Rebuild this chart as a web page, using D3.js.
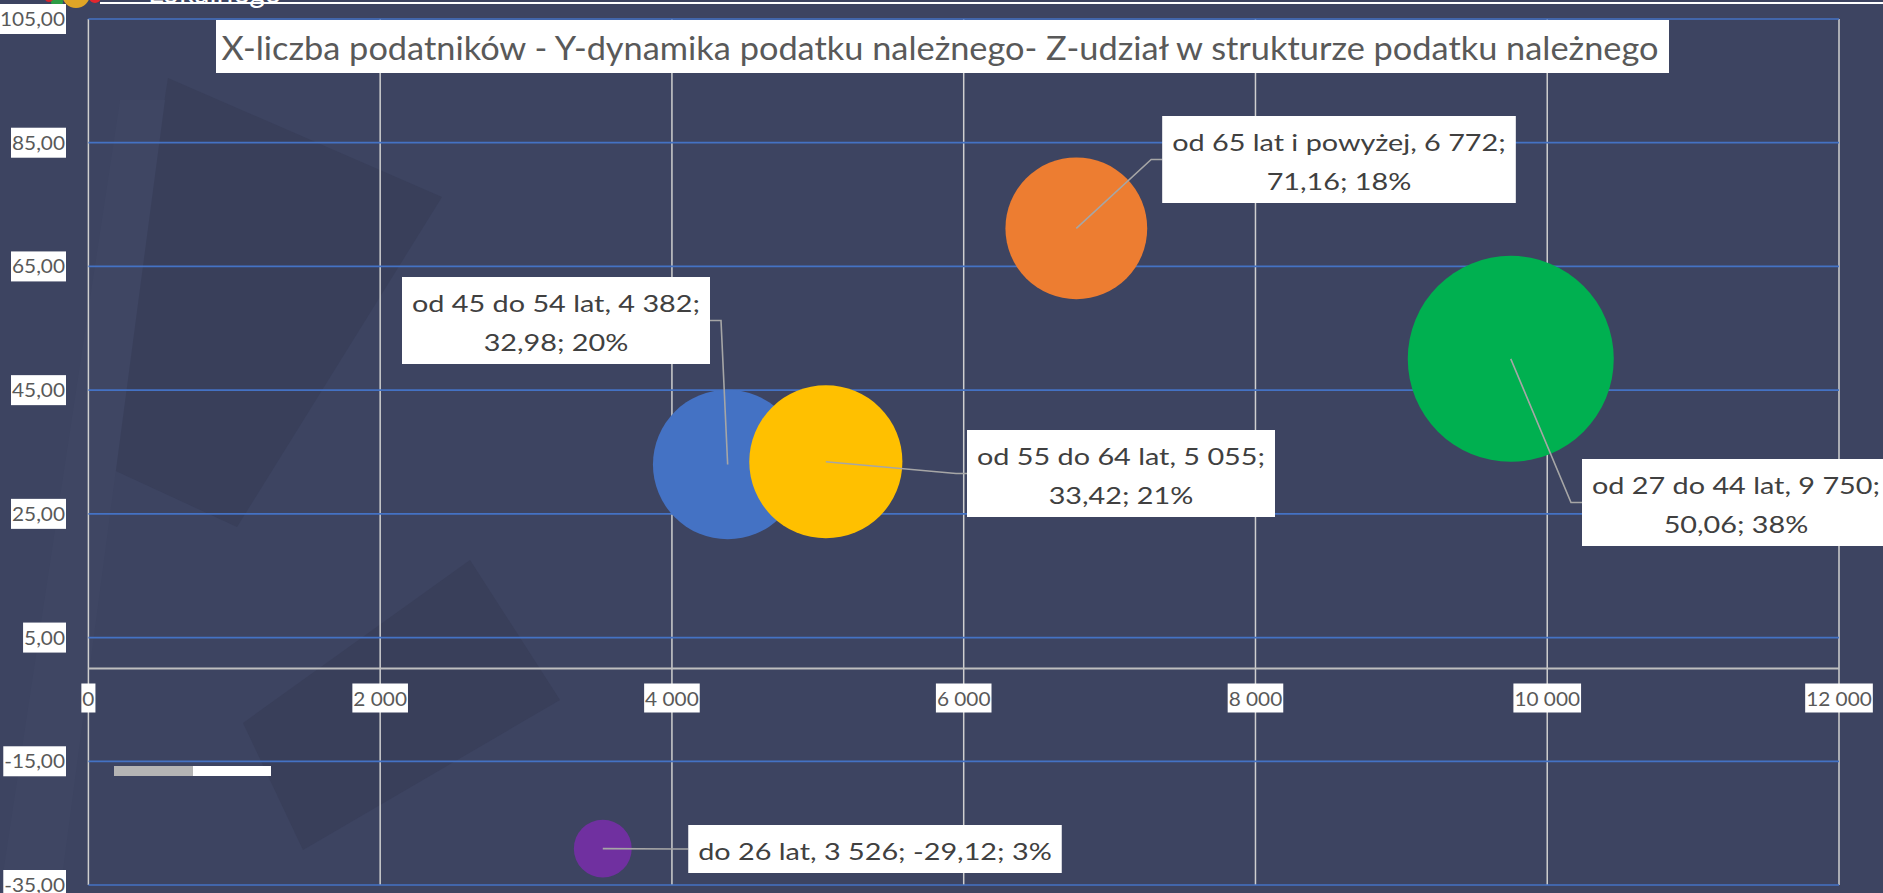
<!DOCTYPE html>
<html>
<head>
<meta charset="utf-8">
<script src="https://d3js.org/d3.v7.min.js"></script>
<style>
  body { margin: 0; background: #3d4461; overflow: hidden; }
  text { font-family: Lato, "Open Sans", sans-serif; }
</style>
</head>
<body>
<div id="chart"></div>
<script>
// ---- data ----
var groups = ["od 27 do 44 lat", "od 45 do 54 lat", "od 55 do 64 lat", "od 65 lat i powyżej", "do 26 lat"]
var taxpayers = [9750, 4382, 5055, 6772, 3526]
var dynamics = [50.06, 32.98, 33.42, 71.16, -29.12]
var shares = [38, 20, 21, 18, 3]
var colors = ["#00b050", "#4472c4", "#ffc000", "#ed7d31", "#7030a0"]
var xTicks = [0, 2000, 4000, 6000, 8000, 10000, 12000]
var yTicks = [-35, -15, 5, 25, 45, 65, 85, 105]
var title = "X-liczba podatników - Y-dynamika podatku należnego- Z-udział w strukturze podatku należnego"

// label boxes: centre x, top y, which side the leader enters
var labelLayout = [
    {cx: 1736, top: 459, side: "left", lines: 2},
    {cx: 556, top: 277, side: "right", lines: 2},
    {cx: 1121, top: 430, side: "left", lines: 2},
    {cx: 1339, top: 116, side: "left", lines: 2},
    {cx: 875, top: 825, side: "left", lines: 1}
]

var width = 1883, height = 893

var pl = d3.formatLocale({decimal: ",", thousands: " ", grouping: [3], currency: ["", " zł"], minus: "-"})
var fmtInt = pl.format(",d")
var fmt2 = pl.format(",.2f")

var svg = d3.select("#chart").append("svg")
    .attr("width", width)
    .attr("height", height)

svg.append("rect").attr("width", width).attr("height", height).attr("fill", "#3d4461")

// faint watermark shapes behind the plot
var bgShapes = svg.append("g").attr("fill", "#393f5a")
bgShapes.append("polygon").attr("points", "168,78 442,197 237,527 107,467")
bgShapes.append("polygon").attr("points", "243,723 470,560 560,700 303,850")
svg.append("polygon").attr("points", "0,893 60,893 165,100 120,100").attr("fill", "#3f4663")

// slide leftovers at the top
svg.append("line").attr("x1", 100).attr("x2", width).attr("y1", 3).attr("y2", 3)
    .attr("stroke", "#ffffff").attr("stroke-width", 2)
svg.append("text").attr("x", 148).attr("y", 3).text("Lokalnego")
    .attr("fill", "#ffffff").attr("font-size", 30)
svg.append("circle").attr("cx", 76).attr("cy", -6).attr("r", 14).attr("fill", "#e0a526")
svg.append("circle").attr("cx", 57).attr("cy", 2).attr("r", 6).attr("fill", "#2e9c45")
svg.append("circle").attr("cx", 49).attr("cy", -2).attr("r", 4).attr("fill", "#d9252b")
svg.append("circle").attr("cx", 95).attr("cy", -3).attr("r", 6).attr("fill", "#e3262e")

// ---- scales ----
var x = d3.scaleLinear().domain([0, 12000]).range([88.4, 1839])
var y = d3.scaleLinear().domain([-35, 105]).range([885, 19])
var r = d3.scaleSqrt().domain([0, 38]).range([0, 103])

// vertical gridlines (grey)
svg.append("g").selectAll("line").data(xTicks).enter().append("line")
    .attr("x1", d => x(d)).attr("x2", d => x(d))
    .attr("y1", y(105)).attr("y2", y(-35))
    .attr("stroke", "#cfcfcf").attr("stroke-width", 1.5)

// horizontal gridlines (blue)
svg.append("g").selectAll("line").data(yTicks).enter().append("line")
    .attr("x1", x(0)).attr("x2", x(12000))
    .attr("y1", d => y(d)).attr("y2", d => y(d))
    .attr("stroke", "#4472c4").attr("stroke-width", 1.7)

// x axis line at zero
svg.append("line").attr("x1", x(0)).attr("x2", x(12000))
    .attr("y1", y(0)).attr("y2", y(0))
    .attr("stroke", "#bfbfbf").attr("stroke-width", 2)

// little grey/white bar left over in the plot
svg.append("rect").attr("x", 114).attr("y", 766).attr("width", 79).attr("height", 10).attr("fill", "#b4b4b4")
svg.append("rect").attr("x", 193).attr("y", 766).attr("width", 78).attr("height", 10).attr("fill", "#ffffff")

// squeeze text to imitate the narrow Calibri face
function squeeze(sel, k) {
    sel.each(function () {
        var w = this.getComputedTextLength()
        d3.select(this).attr("textLength", w * k).attr("lengthAdjust", "spacingAndGlyphs")
    })
}
function factor(str, size, target) {
    var t = svg.append("text").attr("font-size", size).text(str)
    var w = t.node().getComputedTextLength()
    t.remove()
    return target / w
}
var kTick = factor("85,00", 20, 53)
var kLab = factor("od 55 do 64 lat, 5 055;", 23, 288)
var kTitle = factor(title, 33, 1437)

// y tick labels
var yLab = svg.append("g").selectAll("g").data(yTicks).enter().append("g")
yLab.append("rect").attr("fill", "#ffffff")
yLab.append("text")
    .attr("x", 65).attr("y", d => y(d) + 7)
    .attr("text-anchor", "end").attr("font-size", 20).attr("fill", "#595959")
    .text(d => fmt2(d))
    .call(squeeze, kTick)
yLab.each(function (d) {
    var w = +d3.select(this).select("text").attr("textLength")
    d3.select(this).select("rect")
        .attr("x", 64 - w).attr("y", y(d) - 15).attr("width", w + 2).attr("height", 30)
})

// x tick labels
var xLab = svg.append("g").selectAll("g").data(xTicks).enter().append("g")
xLab.append("rect").attr("fill", "#ffffff")
xLab.append("text")
    .attr("x", d => x(d)).attr("y", y(0) + 37)
    .attr("text-anchor", "middle").attr("font-size", 20).attr("fill", "#595959")
    .text(d => fmtInt(d))
    .call(squeeze, kTick)
xLab.each(function (d) {
    var w = +d3.select(this).select("text").attr("textLength")
    d3.select(this).select("rect")
        .attr("x", x(d) - w / 2 - 1).attr("y", y(0) + 15).attr("width", w + 2).attr("height", 29)
})

// title box
var titleG = svg.append("g")
titleG.append("text")
    .attr("x", 940).attr("y", 60)
    .attr("text-anchor", "middle").attr("font-size", 33).attr("fill", "#595959")
    .text(title)
    .call(squeeze, kTitle)
titleG.insert("rect", "text").attr("x", 216).attr("y", 20).attr("width", 1453).attr("height", 53).attr("fill", "#ffffff")

// ---- bubbles ----
var bubbles = groups.map((g, i) => ({
    name: g, x: taxpayers[i], y: dynamics[i], share: shares[i], color: colors[i], lab: labelLayout[i]
}))

svg.append("g").selectAll("circle").data(bubbles).enter().append("circle")
    .attr("cx", d => x(d.x))
    .attr("cy", d => y(d.y))
    .attr("r", d => r(d.share))
    .attr("fill", d => d.color)

// ---- data labels with leader lines ----
var labG = svg.append("g").selectAll("g").data(bubbles).enter().append("g")

labG.each(function (d) {
    var g = d3.select(this)
    var L = d.lab
    var lines
    if (L.lines == 2) {
        lines = [d.name + ", " + fmtInt(d.x) + ";", fmt2(d.y) + "; " + d.share + "%"]
    } else {
        lines = [d.name + ", " + fmtInt(d.x) + "; " + fmt2(d.y) + "; " + d.share + "%"]
    }
    var leader = g.append("path").attr("fill", "none").attr("stroke", "#a6a6a6").attr("stroke-width", 1.6)
    var box = g.append("rect").attr("fill", "#ffffff")
    var maxW = 0
    lines.forEach(function (s, j) {
        var t = g.append("text")
            .attr("x", L.cx).attr("y", L.top + 35 + j * 39)
            .attr("text-anchor", "middle").attr("font-size", 23).attr("fill", "#404040")
            .text(s)
            .call(squeeze, kLab)
        maxW = Math.max(maxW, +t.attr("textLength"))
    })
    var bw = maxW + 20
    var bh = L.lines == 2 ? 87 : 48
    box.attr("x", L.cx - bw / 2).attr("y", L.top).attr("width", bw).attr("height", bh)

    var ex = L.side == "left" ? L.cx - bw / 2 : L.cx + bw / 2
    var ey = L.top + bh / 2
    var elbow = L.side == "left" ? ex - 11 : ex + 11
    leader.attr("d", d3.line()([[x(d.x), y(d.y)], [elbow, ey], [ex, ey]]))
})
</script>
</body>
</html>
